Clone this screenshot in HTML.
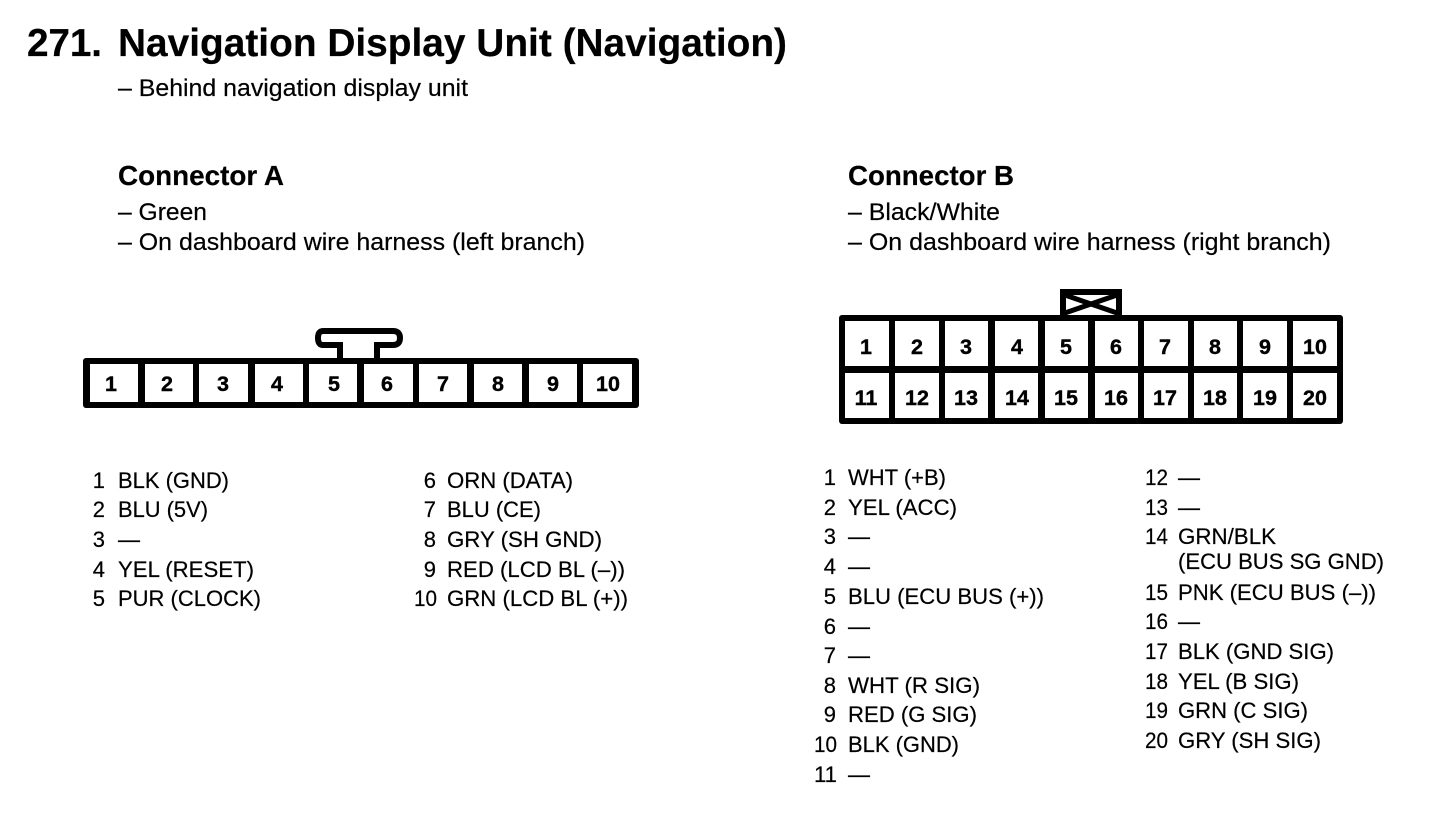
<!DOCTYPE html>
<html><head><meta charset="utf-8"><style>
html,body{margin:0;padding:0;background:#fff}
svg{display:block}
text{font-family:"Liberation Sans",Arial,sans-serif;fill:#000;stroke:#000;stroke-width:.2}
.t{font-size:22px}
.s{font-size:24.5px}
.n{font-size:22px;text-anchor:end}
.b{font-size:21.5px;font-weight:bold;text-anchor:middle;stroke-width:.4}
.h{font-size:27.7px;font-weight:bold}
</style></head><body>
<svg width="1440" height="818" viewBox="0 0 1440 818" xmlns="http://www.w3.org/2000/svg">
<rect width="1440" height="818" fill="#fff"/>
<text x="27" y="56" font-size="38.8" font-weight="bold" textLength="75">271.</text>
<text x="118" y="56" font-size="38.8" font-weight="bold" textLength="669" lengthAdjust="spacingAndGlyphs">Navigation Display Unit (Navigation)</text>
<text class="s" x="118" y="96" textLength="350" lengthAdjust="spacingAndGlyphs">– Behind navigation display unit</text>
<text class="h" x="118" y="185" textLength="166" lengthAdjust="spacingAndGlyphs">Connector A</text>
<text class="s" x="118" y="220" textLength="89" lengthAdjust="spacingAndGlyphs">– Green</text>
<text class="s" x="118" y="250" textLength="467" lengthAdjust="spacingAndGlyphs">– On dashboard wire harness (left branch)</text>
<text class="h" x="848" y="185" textLength="166" lengthAdjust="spacingAndGlyphs">Connector B</text>
<text class="s" x="848" y="220" textLength="152" lengthAdjust="spacingAndGlyphs">– Black/White</text>
<text class="s" x="848" y="250" textLength="483" lengthAdjust="spacingAndGlyphs">– On dashboard wire harness (right branch)</text>

<!-- Connector A -->
<path d="M340 358V345H323Q318 345 318 338Q318 331 323 331H393Q400 331 400 338Q400 345 393 345H377V358" fill="none" stroke="#000" stroke-width="6"/>
<rect x="83" y="358" width="556" height="50" rx="3" fill="#000"/>
<g fill="#fff">
<rect x="90" y="364" width="48" height="38"/><rect x="145" y="364" width="48" height="38"/>
<rect x="199" y="364" width="49" height="38"/><rect x="255" y="364" width="48" height="38"/>
<rect x="309" y="364" width="48" height="38"/><rect x="364" y="364" width="49" height="38"/>
<rect x="419" y="364" width="48" height="38"/><rect x="474" y="364" width="48" height="38"/>
<rect x="529" y="364" width="48" height="38"/><rect x="583" y="364" width="49" height="38"/>
</g>
<text class="b" x="111" y="391">1</text><text class="b" x="167" y="391">2</text><text class="b" x="223" y="391">3</text><text class="b" x="277" y="391">4</text><text class="b" x="334" y="391">5</text><text class="b" x="387" y="391">6</text><text class="b" x="443" y="391">7</text><text class="b" x="498" y="391">8</text><text class="b" x="553" y="391">9</text><text class="b" x="608" y="391">10</text>

<!-- Connector B -->
<rect x="1060" y="289" width="62" height="30" rx="2" fill="#000"/>
<rect x="1066" y="295" width="50" height="20" fill="#fff"/>
<path d="M1062 294L1120 314M1120 294L1062 314" stroke="#000" stroke-width="5"/>
<rect x="1060" y="289" width="6" height="28" fill="#000"/><rect x="1116" y="289" width="6" height="28" fill="#000"/><rect x="1060" y="289" width="62" height="6" rx="2" fill="#000"/>
<rect x="839" y="315" width="504" height="109" rx="3" fill="#000"/>
<g fill="#fff">
<rect x="845" y="321" width="44" height="45"/><rect x="895" y="321" width="44" height="45"/><rect x="945" y="321" width="43" height="45"/><rect x="995" y="321" width="43" height="45"/><rect x="1045" y="321" width="43" height="45"/><rect x="1095" y="321" width="43" height="45"/><rect x="1144" y="321" width="44" height="45"/><rect x="1194" y="321" width="43" height="45"/><rect x="1243" y="321" width="44" height="45"/><rect x="1293" y="321" width="44" height="45"/>
<rect x="845" y="373" width="44" height="45"/><rect x="895" y="373" width="44" height="45"/><rect x="945" y="373" width="43" height="45"/><rect x="995" y="373" width="43" height="45"/><rect x="1045" y="373" width="43" height="45"/><rect x="1095" y="373" width="43" height="45"/><rect x="1144" y="373" width="44" height="45"/><rect x="1194" y="373" width="43" height="45"/><rect x="1243" y="373" width="44" height="45"/><rect x="1293" y="373" width="44" height="45"/>
</g>
<text class="b" x="866" y="354">1</text><text class="b" x="917" y="354">2</text><text class="b" x="966" y="354">3</text><text class="b" x="1017" y="354">4</text><text class="b" x="1066" y="354">5</text><text class="b" x="1116" y="354">6</text><text class="b" x="1165" y="354">7</text><text class="b" x="1215" y="354">8</text><text class="b" x="1265" y="354">9</text><text class="b" x="1315" y="354">10</text>
<text class="b" x="866" y="405">11</text><text class="b" x="917" y="405">12</text><text class="b" x="966" y="405">13</text><text class="b" x="1017" y="405">14</text><text class="b" x="1066" y="405">15</text><text class="b" x="1116" y="405">16</text><text class="b" x="1165" y="405">17</text><text class="b" x="1215" y="405">18</text><text class="b" x="1265" y="405">19</text><text class="b" x="1315" y="405">20</text>

<!-- List A left -->
<text class="n" x="105" y="488">1</text><text class="t" x="118" y="488" textLength="111" lengthAdjust="spacingAndGlyphs">BLK (GND)</text>
<text class="n" x="105" y="517">2</text><text class="t" x="118" y="517" textLength="90" lengthAdjust="spacingAndGlyphs">BLU (5V)</text>
<text class="n" x="105" y="547">3</text><text class="t" x="118" y="547" textLength="22" lengthAdjust="spacingAndGlyphs">—</text>
<text class="n" x="105" y="577">4</text><text class="t" x="118" y="577" textLength="136" lengthAdjust="spacingAndGlyphs">YEL (RESET)</text>
<text class="n" x="105" y="606">5</text><text class="t" x="118" y="606" textLength="143" lengthAdjust="spacingAndGlyphs">PUR (CLOCK)</text>
<!-- List A right -->
<text class="n" x="436" y="488">6</text><text class="t" x="447" y="488" textLength="126" lengthAdjust="spacingAndGlyphs">ORN (DATA)</text>
<text class="n" x="436" y="517">7</text><text class="t" x="447" y="517" textLength="94" lengthAdjust="spacingAndGlyphs">BLU (CE)</text>
<text class="n" x="436" y="547">8</text><text class="t" x="447" y="547" textLength="155" lengthAdjust="spacingAndGlyphs">GRY (SH GND)</text>
<text class="n" x="436" y="577">9</text><text class="t" x="447" y="577" textLength="178" lengthAdjust="spacingAndGlyphs">RED (LCD BL (–))</text>
<text class="n" x="437" y="606" textLength="23" lengthAdjust="spacingAndGlyphs">10</text><text class="t" x="447" y="606" textLength="181" lengthAdjust="spacingAndGlyphs">GRN (LCD BL (+))</text>
<!-- List B left -->
<text class="n" x="836" y="485">1</text><text class="t" x="848" y="485" textLength="98" lengthAdjust="spacingAndGlyphs">WHT (+B)</text>
<text class="n" x="836" y="515">2</text><text class="t" x="848" y="515" textLength="109" lengthAdjust="spacingAndGlyphs">YEL (ACC)</text>
<text class="n" x="836" y="544">3</text><text class="t" x="848" y="544" textLength="22" lengthAdjust="spacingAndGlyphs">—</text>
<text class="n" x="836" y="574">4</text><text class="t" x="848" y="574" textLength="22" lengthAdjust="spacingAndGlyphs">—</text>
<text class="n" x="836" y="604">5</text><text class="t" x="848" y="604" textLength="196" lengthAdjust="spacingAndGlyphs">BLU (ECU BUS (+))</text>
<text class="n" x="836" y="634">6</text><text class="t" x="848" y="634" textLength="22" lengthAdjust="spacingAndGlyphs">—</text>
<text class="n" x="836" y="663">7</text><text class="t" x="848" y="663" textLength="22" lengthAdjust="spacingAndGlyphs">—</text>
<text class="n" x="836" y="693">8</text><text class="t" x="848" y="693" textLength="132" lengthAdjust="spacingAndGlyphs">WHT (R SIG)</text>
<text class="n" x="836" y="722">9</text><text class="t" x="848" y="722" textLength="129" lengthAdjust="spacingAndGlyphs">RED (G SIG)</text>
<text class="n" x="837" y="752" textLength="23" lengthAdjust="spacingAndGlyphs">10</text><text class="t" x="848" y="752" textLength="111" lengthAdjust="spacingAndGlyphs">BLK (GND)</text>
<text class="n" x="837" y="782" textLength="23" lengthAdjust="spacingAndGlyphs">11</text><text class="t" x="848" y="782" textLength="22" lengthAdjust="spacingAndGlyphs">—</text>
<!-- List B right -->
<text class="n" x="1168" y="485" textLength="23" lengthAdjust="spacingAndGlyphs">12</text><text class="t" x="1178" y="485" textLength="22" lengthAdjust="spacingAndGlyphs">—</text>
<text class="n" x="1168" y="515" textLength="23" lengthAdjust="spacingAndGlyphs">13</text><text class="t" x="1178" y="515" textLength="22" lengthAdjust="spacingAndGlyphs">—</text>
<text class="n" x="1168" y="544" textLength="23" lengthAdjust="spacingAndGlyphs">14</text><text class="t" x="1178" y="544" textLength="98" lengthAdjust="spacingAndGlyphs">GRN/BLK</text>
<text class="t" x="1178" y="569" textLength="206" lengthAdjust="spacingAndGlyphs">(ECU BUS SG GND)</text>
<text class="n" x="1168" y="600" textLength="23" lengthAdjust="spacingAndGlyphs">15</text><text class="t" x="1178" y="600" textLength="198" lengthAdjust="spacingAndGlyphs">PNK (ECU BUS (–))</text>
<text class="n" x="1168" y="629" textLength="23" lengthAdjust="spacingAndGlyphs">16</text><text class="t" x="1178" y="629" textLength="22" lengthAdjust="spacingAndGlyphs">—</text>
<text class="n" x="1168" y="659" textLength="23" lengthAdjust="spacingAndGlyphs">17</text><text class="t" x="1178" y="659" textLength="156" lengthAdjust="spacingAndGlyphs">BLK (GND SIG)</text>
<text class="n" x="1168" y="689" textLength="23" lengthAdjust="spacingAndGlyphs">18</text><text class="t" x="1178" y="689" textLength="121" lengthAdjust="spacingAndGlyphs">YEL (B SIG)</text>
<text class="n" x="1168" y="718" textLength="23" lengthAdjust="spacingAndGlyphs">19</text><text class="t" x="1178" y="718" textLength="130" lengthAdjust="spacingAndGlyphs">GRN (C SIG)</text>
<text class="n" x="1168" y="748" textLength="23" lengthAdjust="spacingAndGlyphs">20</text><text class="t" x="1178" y="748" textLength="143" lengthAdjust="spacingAndGlyphs">GRY (SH SIG)</text>
</svg>
</body></html>
